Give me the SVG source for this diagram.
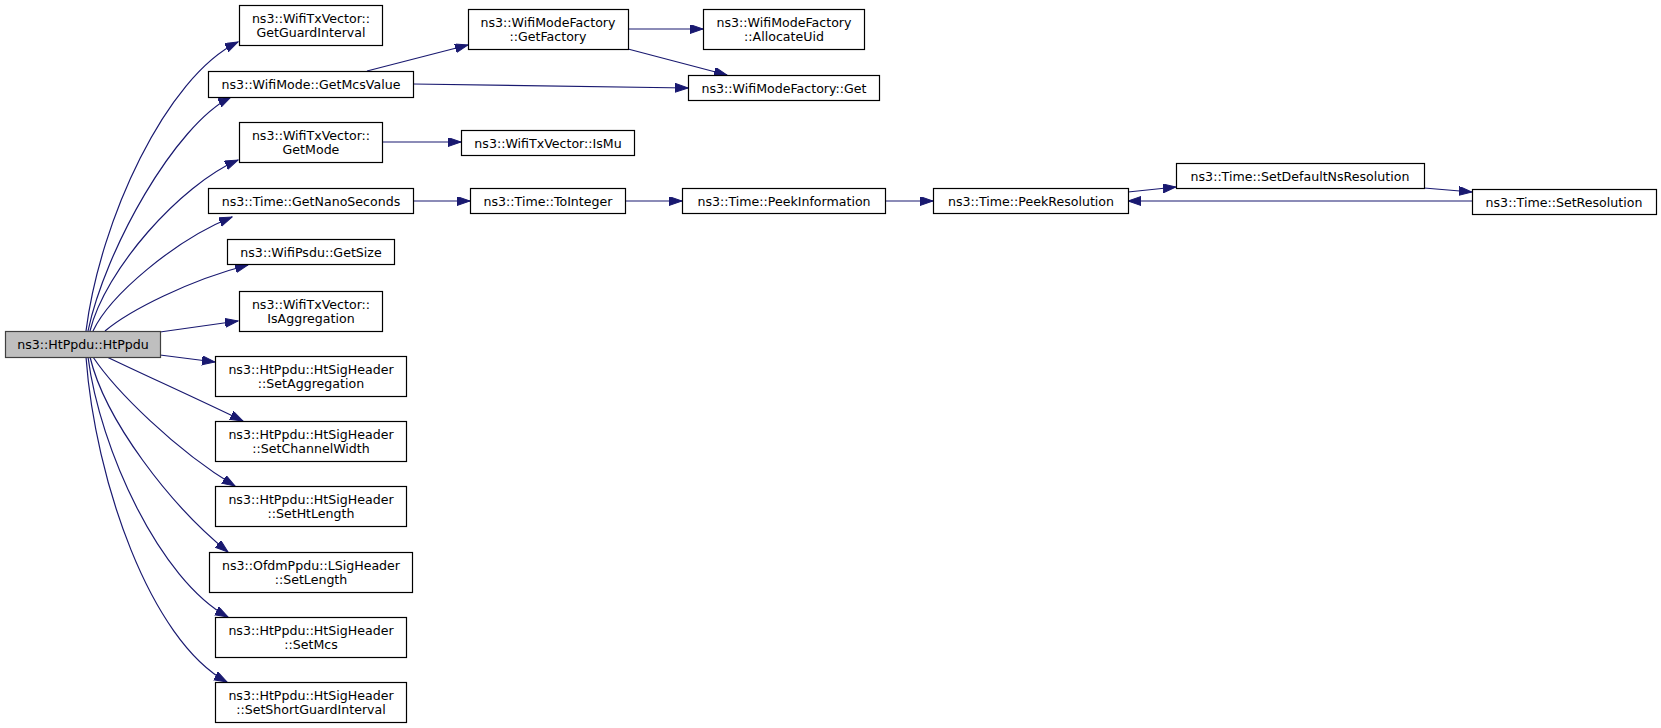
<svg xmlns="http://www.w3.org/2000/svg" width="1661" height="728" viewBox="0 0 1661 728">
<style>
.node rect{fill:#ffffff;stroke:#000000;stroke-width:1.2}
.node.root rect{fill:#bfbfbf;stroke:#404040}
.node text{font-family:"DejaVu Sans","Liberation Sans",sans-serif;font-size:12.6px;fill:#000000;text-anchor:middle}
.edges path{fill:none;stroke:#191970;stroke-width:1.2}
</style>
<defs>
<marker id="arr" markerUnits="userSpaceOnUse" markerWidth="14" markerHeight="10" refX="13" refY="4.5" orient="auto">
<path d="M0,0 L13,4.5 L0,9 Z" fill="#191970" stroke="#191970" stroke-width="1"/>
</marker>
</defs>
<rect x="0" y="0" width="1661" height="728" fill="#ffffff"/>
<g class="edges" marker-end="url(#arr)">
<path d="M86,331 C100,220 166,77 238,42" marker-end="url(#arr)"/>
<path d="M88,331 C105,250 175,125 231,97" marker-end="url(#arr)"/>
<path d="M90,331 C105,270 180,185 238,160" marker-end="url(#arr)"/>
<path d="M93,331 C110,295 175,240 232,217" marker-end="url(#arr)"/>
<path d="M105,331 C130,310 190,280 248,265" marker-end="url(#arr)"/>
<path d="M160,332 L238,321" marker-end="url(#arr)"/>
<path d="M160,355 L215,362" marker-end="url(#arr)"/>
<path d="M107,357 C140,373 200,400 243,421" marker-end="url(#arr)"/>
<path d="M93,357 C115,390 175,450 235,486" marker-end="url(#arr)"/>
<path d="M90,357 C105,420 170,505 228,552" marker-end="url(#arr)"/>
<path d="M88,357 C100,450 160,580 228,617" marker-end="url(#arr)"/>
<path d="M86,357 C95,480 150,640 227,682" marker-end="url(#arr)"/>
<path d="M367,71 L468,45" marker-end="url(#arr)"/>
<path d="M413,84 L688,88" marker-end="url(#arr)"/>
<path d="M628,29 L703,29" marker-end="url(#arr)"/>
<path d="M628,49 L727,75" marker-end="url(#arr)"/>
<path d="M382,142 L461,142" marker-end="url(#arr)"/>
<path d="M413,201 L470,201" marker-end="url(#arr)"/>
<path d="M625,201 L682,201" marker-end="url(#arr)"/>
<path d="M885,201 L933,201" marker-end="url(#arr)"/>
<path d="M1128,192 L1176,187" marker-end="url(#arr)"/>
<path d="M1424,188 L1472,192" marker-end="url(#arr)"/>
<path d="M1472,201 L1128,201" marker-end="url(#arr)"/>
</g>
<g id="n_htppdu" class="node root"><rect x="5.5" y="331.5" width="155" height="26"/><text x="83" y="348.5">ns3::HtPpdu::HtPpdu</text></g>
<g id="n_getguardinterval" class="node"><rect x="239.5" y="5.5" width="143" height="40"/><text x="311" y="22.5">ns3::WifiTxVector::</text><text x="311" y="36.5">GetGuardInterval</text></g>
<g id="n_getmcsvalue" class="node"><rect x="208.5" y="71.5" width="205" height="26"/><text x="311" y="88.5">ns3::WifiMode::GetMcsValue</text></g>
<g id="n_getmode" class="node"><rect x="239.5" y="122.5" width="143" height="40"/><text x="311" y="139.5">ns3::WifiTxVector::</text><text x="311" y="153.5">GetMode</text></g>
<g id="n_getnanoseconds" class="node"><rect x="208.5" y="188.5" width="205" height="25"/><text x="311" y="205.5">ns3::Time::GetNanoSeconds</text></g>
<g id="n_getsize" class="node"><rect x="227.5" y="239.5" width="167" height="25"/><text x="311" y="256.5">ns3::WifiPsdu::GetSize</text></g>
<g id="n_isaggregation" class="node"><rect x="239.5" y="291.5" width="143" height="40"/><text x="311" y="308.5">ns3::WifiTxVector::</text><text x="311" y="322.5">IsAggregation</text></g>
<g id="n_setaggregation" class="node"><rect x="215.5" y="356.5" width="191" height="40"/><text x="311" y="373.5">ns3::HtPpdu::HtSigHeader</text><text x="311" y="387.5">::SetAggregation</text></g>
<g id="n_setchannelwidth" class="node"><rect x="215.5" y="421.5" width="191" height="40"/><text x="311" y="438.5">ns3::HtPpdu::HtSigHeader</text><text x="311" y="452.5">::SetChannelWidth</text></g>
<g id="n_sethtlength" class="node"><rect x="215.5" y="486.5" width="191" height="40"/><text x="311" y="503.5">ns3::HtPpdu::HtSigHeader</text><text x="311" y="517.5">::SetHtLength</text></g>
<g id="n_setlength" class="node"><rect x="209.5" y="552.5" width="203" height="40"/><text x="311" y="569.5">ns3::OfdmPpdu::LSigHeader</text><text x="311" y="583.5">::SetLength</text></g>
<g id="n_setmcs" class="node"><rect x="215.5" y="617.5" width="191" height="40"/><text x="311" y="634.5">ns3::HtPpdu::HtSigHeader</text><text x="311" y="648.5">::SetMcs</text></g>
<g id="n_setshortguardinterval" class="node"><rect x="215.5" y="682.5" width="191" height="40"/><text x="311" y="699.5">ns3::HtPpdu::HtSigHeader</text><text x="311" y="713.5">::SetShortGuardInterval</text></g>
<g id="n_getfactory" class="node"><rect x="468.5" y="9.5" width="160" height="40"/><text x="548" y="26.5">ns3::WifiModeFactory</text><text x="548" y="40.5">::GetFactory</text></g>
<g id="n_allocateuid" class="node"><rect x="703.5" y="9.5" width="161" height="40"/><text x="784" y="26.5">ns3::WifiModeFactory</text><text x="784" y="40.5">::AllocateUid</text></g>
<g id="n_wmfget" class="node"><rect x="688.5" y="75.5" width="191" height="25"/><text x="784" y="92.5">ns3::WifiModeFactory::Get</text></g>
<g id="n_ismu" class="node"><rect x="461.5" y="130.5" width="173" height="25"/><text x="548" y="147.5">ns3::WifiTxVector::IsMu</text></g>
<g id="n_tointeger" class="node"><rect x="470.5" y="188.5" width="155" height="25"/><text x="548" y="205.5">ns3::Time::ToInteger</text></g>
<g id="n_peekinformation" class="node"><rect x="682.5" y="188.5" width="203" height="25"/><text x="784" y="205.5">ns3::Time::PeekInformation</text></g>
<g id="n_peekresolution" class="node"><rect x="933.5" y="188.5" width="195" height="25"/><text x="1031" y="205.5">ns3::Time::PeekResolution</text></g>
<g id="n_setdefaultnsresolution" class="node"><rect x="1176.5" y="163.5" width="248" height="25"/><text x="1300" y="180.5">ns3::Time::SetDefaultNsResolution</text></g>
<g id="n_setresolution" class="node"><rect x="1472.5" y="189.5" width="184" height="25"/><text x="1564" y="206.5">ns3::Time::SetResolution</text></g>
</svg>
